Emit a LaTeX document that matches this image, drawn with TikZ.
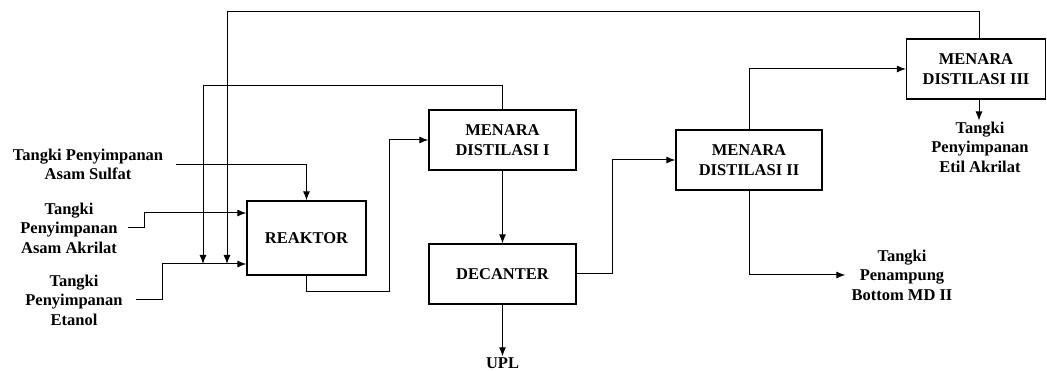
\documentclass[tikz,border=0pt]{standalone}
\usepackage{fontspec}
\setmainfont{Liberation Serif}
\usepackage{tikz}
\usetikzlibrary{arrows,arrows.meta,positioning,calc}

\newcommand{\diafont}{\fontsize{16.5}{19.5}\selectfont\bfseries}

\begin{document}
\begin{tikzpicture}[x=1pt, y=-1pt, >={Latex[length=9pt,width=7pt]},
    box/.style={rectangle, draw, line width=1.3pt, minimum height=60pt, align=center, font=\diafont, inner sep=2pt},
    lbl/.style={align=center, font=\diafont, inner sep=1pt},
    flow/.style={->, line width=1pt}]
    \useasboundingbox (0,0) rectangle (1047,371);

    \node[box, minimum width=119pt, minimum height=74pt] (reaktor) at (306.5,238) {REAKTOR};
    \node[box, minimum width=147pt] (md1) at (502.5,140) {MENARA\\DISTILASI I};
    \node[box, minimum width=147pt] (decanter) at (502.5,274) {DECANTER};
    \node[box, minimum width=146pt] (md2) at (749,160) {MENARA\\DISTILASI II};
    \node[box, minimum width=139pt] (md3) at (976,69) {MENARA\\DISTILASI III};

    \node[lbl] (sulfat) at (88,164.5) {Tangki Penyimpanan\\Asam Sulfat};
    \node[lbl] (akrilat) at (69,228) {Tangki\\Penyimpanan\\Asam Akrilat};
    \node[lbl] (etanol) at (74,300) {Tangki\\Penyimpanan\\Etanol};
    \node[lbl] (upl) at (502.5,363) {UPL};
    \node[lbl] (bmd) at (902,275) {Tangki\\Penampung\\Bottom MD II};
    \node[lbl] (etil) at (980,147) {Tangki\\Penyimpanan\\Etil Akrilat};

    \coordinate (rec1) at (203,264);
    \coordinate (rec3) at (227,264);

    % feed
    \draw[flow] ([xshift=12pt]sulfat.east) -| (reaktor.north);
    \draw[flow] ([xshift=9pt]akrilat.east) -- ++(17,0) |- ([yshift=25pt]reaktor.west);
    \draw[flow] ([xshift=12pt]etanol.east) -- ++(27,0) |- ([yshift=-26pt]reaktor.west);

    % recycle
    \draw[flow] (md1.north) -- ++(0,-24) -| (rec1);
    \draw[flow] ([xshift=3pt]md3.north) -- ++(0,-27) -| (rec3);

    % main line
    \draw[flow] (reaktor.south) -- ++(0,16) -- ++(83,0) |- (md1.west);
    \draw[flow] (md1.south) -- (decanter.north);
    \draw[flow] (decanter.south) -- (upl.north);
    \draw[flow] (decanter.east) -- ++(36,0) |- (md2.west);
    \draw[flow] (md2.north) |- (md3.west);
    \draw[flow] (md2.south) |- ([xshift=-5pt]bmd.west);
    \draw[flow] ([xshift=3pt]md3.south) -- ([xshift=3pt]md3.south |- etil.north);
\end{tikzpicture}
\end{document}
